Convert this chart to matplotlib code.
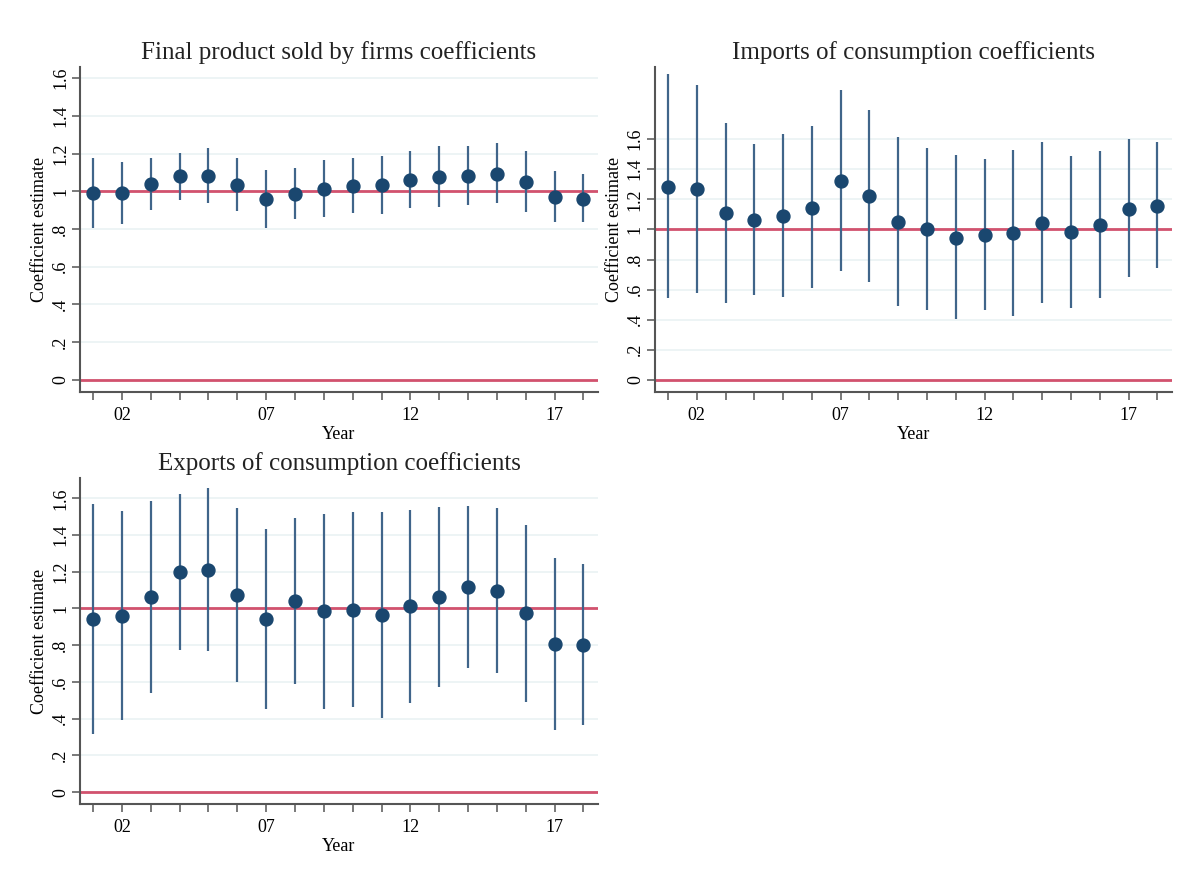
import matplotlib.pyplot as plt
import numpy as np

years = np.arange(1, 19)
tick_years = [2, 7, 12, 17]
tick_labels = ["02", "07", "12", "17"]
ytick_vals = [0, 0.2, 0.4, 0.6, 0.8, 1.0, 1.2, 1.4, 1.6]
ytick_labels = ["0", ".2", ".4", ".6", ".8", "1", "1.2", "1.4", "1.6"]

# Final product sold by firms
final_est = [0.989, 0.990, 1.039, 1.079, 1.083, 1.035, 0.958, 0.986, 1.012,
             1.030, 1.033, 1.062, 1.077, 1.081, 1.092, 1.049, 0.972, 0.960]
final_hi = [1.176, 1.153, 1.176, 1.204, 1.229, 1.176, 1.114, 1.125, 1.165,
            1.174, 1.188, 1.215, 1.241, 1.238, 1.254, 1.213, 1.109, 1.093]
final_lo = [0.805, 0.827, 0.901, 0.954, 0.938, 0.894, 0.805, 0.852, 0.863,
            0.886, 0.880, 0.912, 0.915, 0.928, 0.937, 0.889, 0.835, 0.835]

# Imports of consumption
imp_est = [1.283, 1.268, 1.109, 1.063, 1.092, 1.145, 1.319, 1.221, 1.051,
           1.000, 0.946, 0.962, 0.975, 1.045, 0.984, 1.029, 1.138, 1.158]
imp_hi = [2.031, 1.958, 1.708, 1.565, 1.634, 1.685, 1.926, 1.795, 1.616,
          1.540, 1.496, 1.469, 1.529, 1.578, 1.491, 1.518, 1.598, 1.578]
imp_lo = [0.545, 0.580, 0.509, 0.567, 0.554, 0.609, 0.721, 0.652, 0.489,
          0.462, 0.402, 0.464, 0.424, 0.511, 0.480, 0.542, 0.685, 0.741]

# Exports of consumption
exp_est = [0.942, 0.960, 1.060, 1.199, 1.211, 1.073, 0.940, 1.042, 0.985,
           0.993, 0.962, 1.011, 1.060, 1.117, 1.097, 0.973, 0.809, 0.803]
exp_hi = [1.568, 1.532, 1.587, 1.623, 1.654, 1.548, 1.434, 1.495, 1.517,
          1.525, 1.523, 1.536, 1.552, 1.557, 1.546, 1.454, 1.277, 1.240]
exp_lo = [0.317, 0.392, 0.539, 0.774, 0.770, 0.599, 0.452, 0.586, 0.455,
          0.463, 0.401, 0.485, 0.570, 0.678, 0.647, 0.492, 0.339, 0.366]

navy = "#1a476f"
bar_col = "#40658a"
red = "#d2526e"
grid_col = "#eaf2f3"
axis_col = "#555555"

plt.rcParams["font.family"] = ["Liberation Serif", "DejaVu Serif"]

fig = plt.figure(figsize=(11.77, 8.69), dpi=100)

panels = [
    ("Final product sold by firms coefficients", final_est, final_lo, final_hi,
     [0.068, 0.549, 0.440, 0.374], (-0.065, 1.66)),
    ("Imports of consumption coefficients", imp_est, imp_lo, imp_hi,
     [0.5565, 0.549, 0.439, 0.374], (-0.08, 2.08)),
    ("Exports of consumption coefficients", exp_est, exp_lo, exp_hi,
     [0.068, 0.0748, 0.440, 0.375], (-0.065, 1.71)),
]

for title, est, lo, hi, pos, ylim in panels:
    ax = fig.add_axes(pos)
    for yv in ytick_vals:
        ax.axhline(yv, color=grid_col, lw=1.2, zorder=0)
    ax.axhline(0, color=red, lw=2, zorder=1)
    ax.axhline(1, color=red, lw=2, zorder=1)
    ax.vlines(years, lo, hi, color=bar_col, lw=1.6, zorder=2)
    ax.plot(years, est, "o", color=navy, ms=9.3, zorder=3)

    ax.set_xlim(0.55, 18.5)
    ax.set_ylim(*ylim)
    ax.set_xticks(years)
    ax.set_xticklabels([tick_labels[tick_years.index(y)] if y in tick_years else ""
                        for y in years], fontsize=13)
    ax.set_yticks(ytick_vals)
    ax.set_yticklabels(ytick_labels, fontsize=13, rotation=90, va="center")
    ax.tick_params(axis="both", color=axis_col, length=6, width=1.1)
    ax.tick_params(axis="x", pad=5)
    ax.tick_params(axis="y", pad=2)

    for side in ["top", "right"]:
        ax.spines[side].set_visible(False)
    for side in ["left", "bottom"]:
        ax.spines[side].set_color(axis_col)
        ax.spines[side].set_linewidth(1.5)

    ax.set_title(title, fontsize=18, color="#222222", pad=6)
    ax.set_xlabel("Year", fontsize=13, labelpad=1)
    ax.set_ylabel("Coefficient estimate", fontsize=13, labelpad=3)

fig.savefig("out.png", dpi=100, facecolor="white")
